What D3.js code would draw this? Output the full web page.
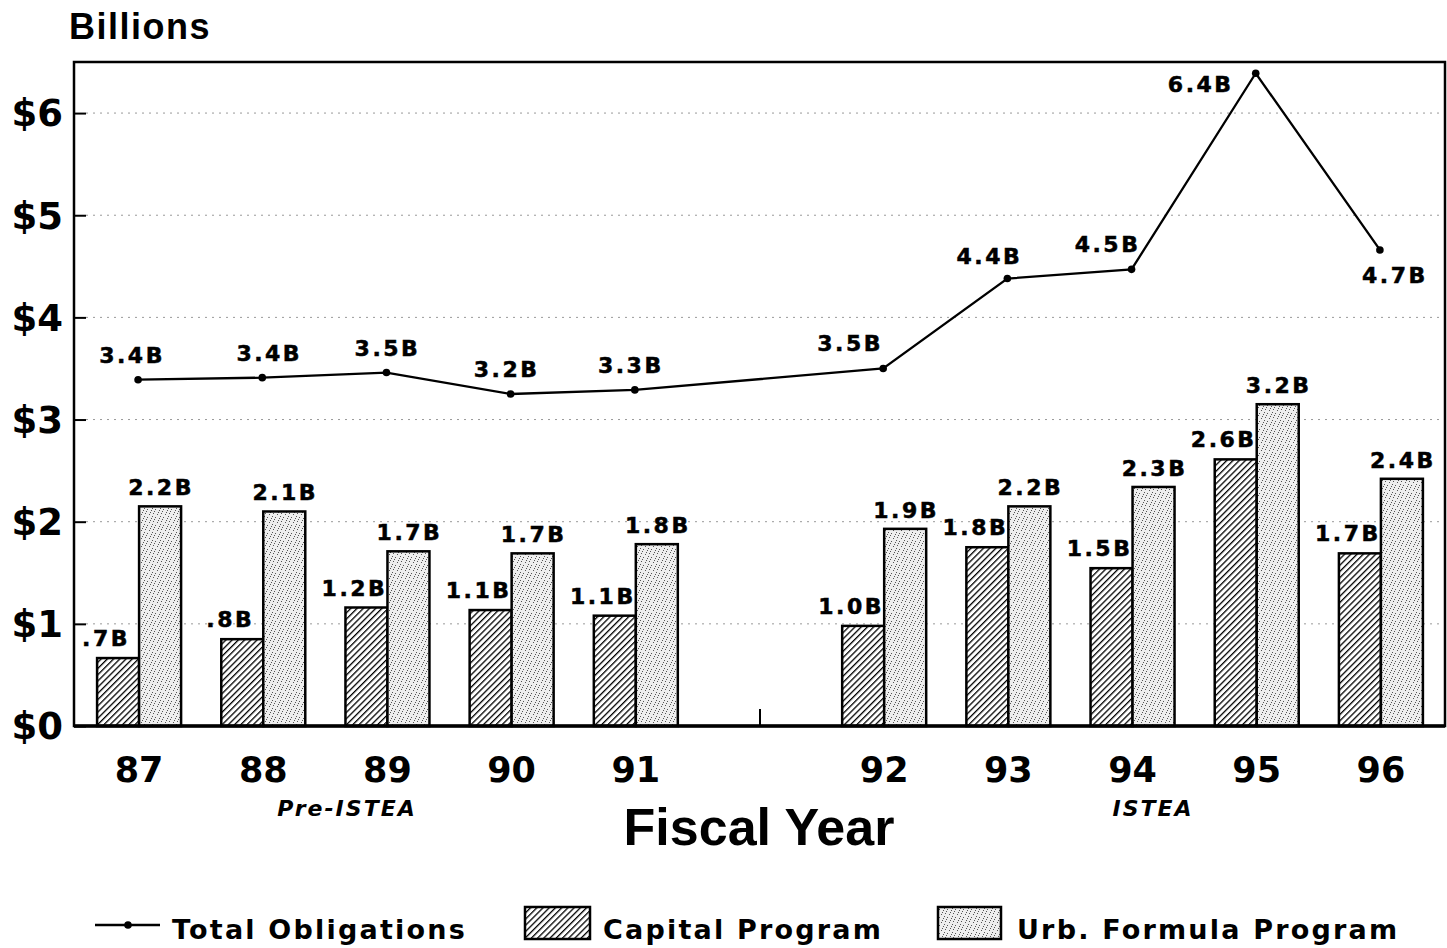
<!DOCTYPE html>
<html>
<head>
<meta charset="utf-8">
<script src="https://cdn.jsdelivr.net/npm/d3@7"></script>
<style>
  body { margin: 0; background: #fff; }
  svg text { font-family: "DejaVu Sans", sans-serif; font-weight: bold; fill: #000; }
</style>
</head>
<body>
<div id="chart"></div>
<script>
// fiscal years (with an empty slot between 91 and 92)
const years = ["87", "88", "89", "90", "91", "92", "93", "94", "95", "96"];
const slots = ["87", "88", "89", "90", "91", "gap", "92", "93", "94", "95", "96"];

// values in billions of dollars
const totalObligations = [3.39, 3.41, 3.46, 3.25, 3.29, 3.50, 4.38, 4.47, 6.39, 4.66];
const capitalProgram   = [0.665, 0.85, 1.16, 1.135, 1.08, 0.98, 1.75, 1.545, 2.61, 1.69];
const urbFormula       = [2.15, 2.10, 1.71, 1.69, 1.78, 1.93, 2.15, 2.34, 3.15, 2.42];

const totalLabels   = ["3.4B", "3.4B", "3.5B", "3.2B", "3.3B", "3.5B", "4.4B", "4.5B", "6.4B", "4.7B"];
const capitalLabels = [".7B", ".8B", "1.2B", "1.1B", "1.1B", "1.0B", "1.8B", "1.5B", "2.6B", "1.7B"];
const urbLabels     = ["2.2B", "2.1B", "1.7B", "1.7B", "1.8B", "1.9B", "2.2B", "2.3B", "3.2B", "2.4B"];

const yTicks = [0, 1, 2, 3, 4, 5, 6];

(function () {
  const width = 1447, height = 948;
  const svg = d3.select("#chart").append("svg")
    .attr("width", width).attr("height", height);

  const left = 74, right = 1445, top = 62, bottom = 726;

  const x = d3.scaleBand().domain(slots).range([77, 1443]);
  const y = d3.scaleLinear().domain([0, 6.5]).range([bottom, top]);
  const sub = d3.scaleBand().domain(["cap", "urb"]).range([-42, 42]);

  // fill patterns
  const defs = svg.append("defs");
  const hatch = defs.append("pattern").attr("id", "hatch")
    .attr("patternUnits", "userSpaceOnUse").attr("width", 4.4).attr("height", 4.4)
    .attr("patternTransform", "rotate(45)");
  hatch.append("rect").attr("width", 4.4).attr("height", 4.4).attr("fill", "#fff");
  hatch.append("line").attr("x1", 0).attr("y1", 0).attr("x2", 0).attr("y2", 4.4)
    .attr("stroke", "#000").attr("stroke-width", 2.6);

  const dots = defs.append("pattern").attr("id", "dots")
    .attr("patternUnits", "userSpaceOnUse").attr("width", 8).attr("height", 8);
  dots.append("rect").attr("width", 8).attr("height", 8).attr("fill", "#eeeeee");
  [[1, 1], [5, 2], [3, 5], [7, 6], [0, 4], [6, 0], [2, 7]].forEach(([px, py]) => {
    dots.append("rect").attr("x", px).attr("y", py).attr("width", 1).attr("height", 1)
      .attr("fill", "#555");
  });

  // grid lines
  svg.append("g").selectAll("line")
    .data(yTicks.filter(d => d > 0))
    .join("line")
    .attr("x1", left + 12).attr("x2", right)
    .attr("y1", d => y(d)).attr("y2", d => y(d))
    .attr("stroke", "#999").attr("stroke-width", 1)
    .attr("stroke-dasharray", "2,5");

  // bars
  const rows = years.map((yr, i) => ({
    yr, total: totalObligations[i], cap: capitalProgram[i], urb: urbFormula[i],
    tl: totalLabels[i], cl: capitalLabels[i], ul: urbLabels[i]
  }));

  const g = svg.append("g");
  g.selectAll("rect.cap").data(rows).join("rect")
    .attr("x", d => x(d.yr) + x.bandwidth() / 2 + sub("cap"))
    .attr("y", d => y(d.cap))
    .attr("width", sub.bandwidth())
    .attr("height", d => y(0) - y(d.cap))
    .attr("fill", "url(#hatch)").attr("stroke", "#000").attr("stroke-width", 2.5);

  g.selectAll("rect.urb").data(rows).join("rect")
    .attr("x", d => x(d.yr) + x.bandwidth() / 2 + sub("urb"))
    .attr("y", d => y(d.urb))
    .attr("width", sub.bandwidth())
    .attr("height", d => y(0) - y(d.urb))
    .attr("fill", "url(#dots)").attr("stroke", "#000").attr("stroke-width", 2.5);

  // bar labels
  const labelStyle = sel => sel.style("font-size", "22px").style("letter-spacing", "2.5px")
    .style("stroke", "#000").style("stroke-width", "0.5px");
  g.selectAll("text.cap").data(rows).join("text")
    .attr("x", d => x(d.yr) + x.bandwidth() / 2 + sub("cap") + sub.bandwidth() / 2 - 12)
    .attr("y", d => y(d.cap) - 12)
    .attr("text-anchor", "middle")
    .text(d => d.cl)
    .call(labelStyle);

  g.selectAll("text.urb").data(rows).join("text")
    .attr("x", d => x(d.yr) + x.bandwidth() / 2 + sub("urb") + sub.bandwidth() / 2 + 1)
    .attr("y", d => y(d.urb) - 11)
    .attr("text-anchor", "middle")
    .text(d => d.ul)
    .call(labelStyle);

  // total obligations line
  const cx = d => x(d.yr) + x.bandwidth() / 2 - 1;
  const line = d3.line().x(cx).y(d => y(d.total));
  svg.append("path").datum(rows)
    .attr("d", line).attr("fill", "none")
    .attr("stroke", "#000").attr("stroke-width", 2.3);
  svg.append("g").selectAll("circle").data(rows).join("circle")
    .attr("cx", cx).attr("cy", d => y(d.total)).attr("r", 3.8).attr("fill", "#000");

  // label nudges for the line
  const nudge = { "87": [-6, -17], "88": [7, -17], "89": [1, -17], "90": [-4, -17], "91": [-4, -17],
                  "92": [-33, -17], "93": [-18, -15], "94": [-24, -17], "95": [-55, 19], "96": [15, 33] };
  svg.append("g").selectAll("text").data(rows).join("text")
    .attr("x", d => cx(d) + nudge[d.yr][0])
    .attr("y", d => y(d.total) + nudge[d.yr][1])
    .attr("text-anchor", "middle")
    .text(d => d.tl)
    .call(labelStyle);

  // frame
  svg.append("rect")
    .attr("x", left).attr("y", top).attr("width", right - left).attr("height", bottom - top)
    .attr("fill", "none").attr("stroke", "#000").attr("stroke-width", 2.5);
  svg.append("line").attr("x1", left).attr("x2", right).attr("y1", bottom).attr("y2", bottom)
    .attr("stroke", "#000").attr("stroke-width", 3.5);

  // y axis
  const yAxis = svg.append("g").attr("transform", `translate(${left},0)`)
    .call(d3.axisRight(y).tickValues(yTicks).tickSize(12).tickFormat(""));
  yAxis.select(".domain").remove();
  yAxis.selectAll("line").attr("stroke", "#000").attr("stroke-width", 2);

  svg.append("g").selectAll("text").data(yTicks).join("text")
    .attr("x", 63).attr("y", d => y(d))
    .attr("dy", "0.36em")
    .attr("text-anchor", "end")
    .style("font-size", "37px")
    .text(d => "$" + d);

  // gap tick
  svg.append("line")
    .attr("x1", x("gap") + x.bandwidth() / 2).attr("x2", x("gap") + x.bandwidth() / 2)
    .attr("y1", bottom - 17).attr("y2", bottom)
    .attr("stroke", "#000").attr("stroke-width", 2);

  // x tick labels
  svg.append("g").selectAll("text").data(years).join("text")
    .attr("x", d => x(d) + x.bandwidth() / 2)
    .attr("y", 782)
    .attr("text-anchor", "middle")
    .style("font-size", "35px")
    .text(d => d);

  // period labels
  svg.append("text").attr("x", 347).attr("y", 816).attr("text-anchor", "middle")
    .style("font-size", "22px").style("font-style", "italic").style("letter-spacing", "2px")
    .text("Pre-ISTEA");
  svg.append("text").attr("x", 1153).attr("y", 816).attr("text-anchor", "middle")
    .style("font-size", "22px").style("font-style", "italic").style("letter-spacing", "2px")
    .text("ISTEA");

  // titles
  svg.append("text").attr("x", 69).attr("y", 39)
    .style("font-family", "Liberation Sans, Arial, sans-serif")
    .style("font-size", "36px").style("letter-spacing", "1.5px")
    .text("Billions");
  svg.append("text").attr("x", 759).attr("y", 845).attr("text-anchor", "middle")
    .style("font-family", "Liberation Sans, Arial, sans-serif")
    .style("font-size", "52px")
    .text("Fiscal Year");

  // legend
  const lg = svg.append("g");
  lg.append("line").attr("x1", 95).attr("x2", 160).attr("y1", 925).attr("y2", 925)
    .attr("stroke", "#000").attr("stroke-width", 2.5);
  lg.append("circle").attr("cx", 128).attr("cy", 925).attr("r", 3.8).attr("fill", "#000");
  lg.append("rect").attr("x", 525).attr("y", 907).attr("width", 65).attr("height", 32)
    .attr("fill", "url(#hatch)").attr("stroke", "#000").attr("stroke-width", 2.5);
  lg.append("rect").attr("x", 938).attr("y", 907).attr("width", 63).attr("height", 32)
    .attr("fill", "url(#dots)").attr("stroke", "#000").attr("stroke-width", 2.5);

  const legendText = [["Total Obligations", 172], ["Capital Program", 603], ["Urb. Formula Program", 1017]];
  lg.selectAll("text").data(legendText).join("text")
    .attr("x", d => d[1]).attr("y", 939)
    .style("font-size", "27px").style("letter-spacing", "2.2px")
    .text(d => d[0]);
})();
</script>
</body>
</html>
